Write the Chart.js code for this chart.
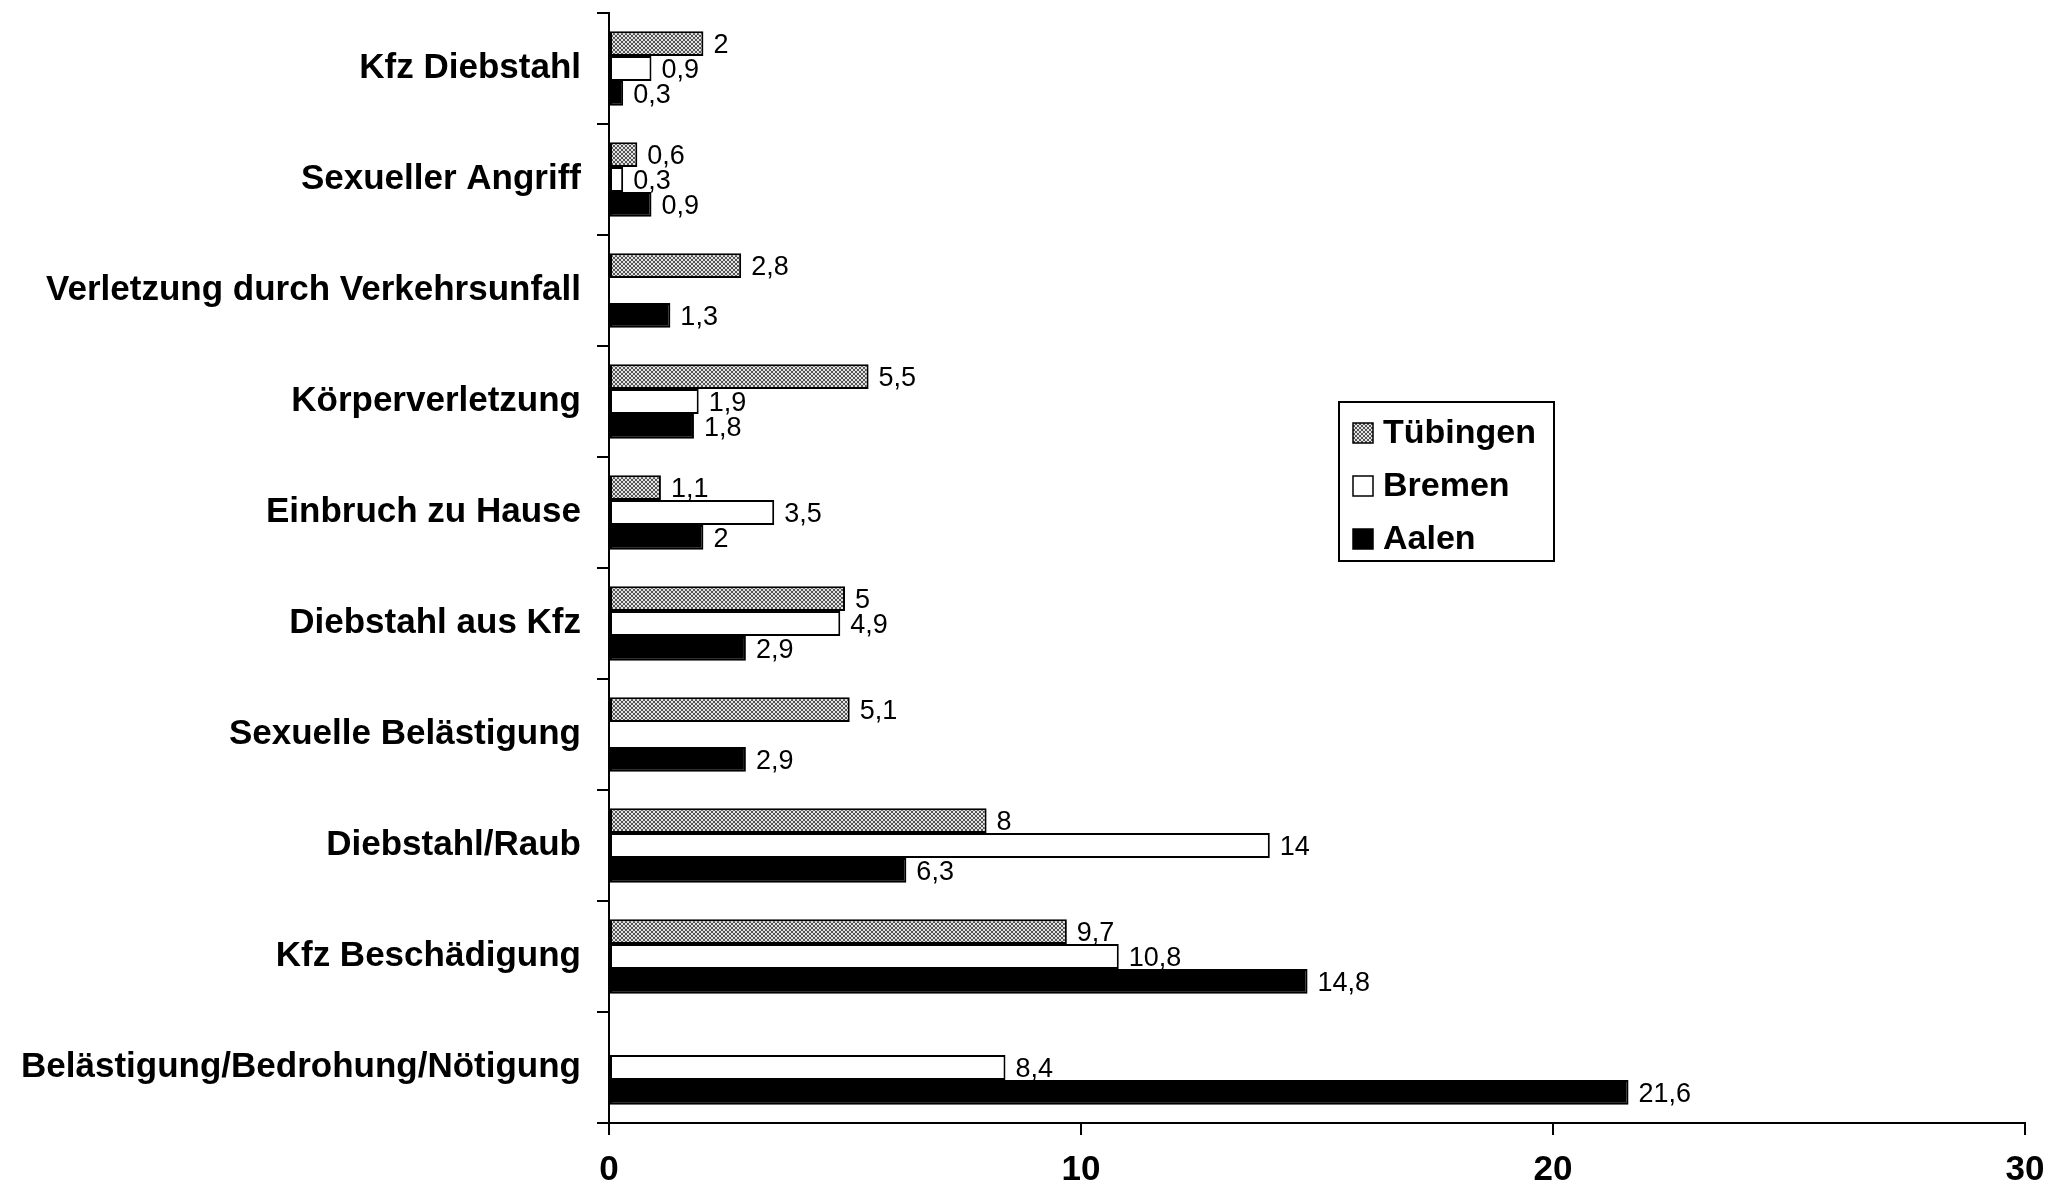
<!DOCTYPE html>
<html>
<head>
<meta charset="utf-8">
<script src="https://cdn.jsdelivr.net/npm/chart.js@4.4.1/dist/chart.umd.min.js"></script>
<style>
  html, body { margin: 0; padding: 0; background: #fff; }
  #wrap { width: 2069px; height: 1194px; }
</style>
</head>
<body>
<div id="wrap"><canvas id="chart" width="2069" height="1194"></canvas></div>
<script>
const categories = [
  'Kfz Diebstahl',
  'Sexueller Angriff',
  'Verletzung durch Verkehrsunfall',
  'Körperverletzung',
  'Einbruch zu Hause',
  'Diebstahl aus Kfz',
  'Sexuelle Belästigung',
  'Diebstahl/Raub',
  'Kfz Beschädigung',
  'Belästigung/Bedrohung/Nötigung'
];
const seriesNames = ['Tübingen', 'Bremen', 'Aalen'];
const tuebingen = [2, 0.6, 2.8, 5.5, 1.1, 5, 5.1, 8, 9.7, null];
const bremen    = [0.9, 0.3, null, 1.9, 3.5, 4.9, null, 14, 10.8, 8.4];
const aalen     = [0.3, 0.9, 1.3, 1.8, 2, 2.9, 2.9, 6.3, 14.8, 21.6];
const xTicks = [0, 10, 20, 30];

Chart.defaults.font.family = 'Liberation Sans, Arial, sans-serif';
Chart.defaults.color = '#000';

// crosshatch fill: dark diagonals both ways, light diamonds between
function makeHatch() {
  const c = document.createElement('canvas');
  c.width = 4; c.height = 4;
  const g = c.getContext('2d');
  for (let y = 0; y < 4; y++) {
    for (let x = 0; x < 4; x++) {
      const diag = x === y || x + y === 3;
      g.fillStyle = diag ? '#555555' : '#e2e2e2';
      g.fillRect(x, y, 1, 1);
    }
  }
  return g.createPattern(c, 'repeat');
}
const hatch = makeHatch();

const fmt = v => String(v).replace('.', ',');

const valueLabels = {
  id: 'valueLabels',
  afterDatasetsDraw(chart) {
    const ctx = chart.ctx;
    ctx.save();
    ctx.font = '27px Liberation Sans, Arial, sans-serif';
    ctx.fillStyle = '#000';
    ctx.textAlign = 'left';
    ctx.textBaseline = 'middle';
    chart.data.datasets.forEach((ds, i) => {
      chart.getDatasetMeta(i).data.forEach((bar, j) => {
        const v = ds.data[j];
        if (v === null || v === undefined) return;
        ctx.fillText(fmt(v), bar.x + 10, bar.y + 2);
      });
    });
    ctx.restore();
  }
};

const boxLegend = {
  id: 'boxLegend',
  afterDraw(chart) {
    const ctx = chart.ctx;
    const x0 = 1339, y0 = 402, w = 215, h = 159;
    ctx.save();
    ctx.fillStyle = '#fff';
    ctx.fillRect(x0, y0, w, h);
    ctx.strokeStyle = '#000';
    ctx.lineWidth = 2;
    ctx.strokeRect(x0, y0, w, h);
    ctx.font = 'bold 34px Liberation Sans, Arial, sans-serif';
    ctx.textBaseline = 'middle';
    chart.data.datasets.forEach((ds, i) => {
      const cy = y0 + 31 + i * 53;
      ctx.fillStyle = ds.backgroundColor;
      ctx.fillRect(x0 + 14, cy - 10, 20, 20);
      ctx.strokeStyle = '#000';
      ctx.lineWidth = 1.5;
      ctx.strokeRect(x0 + 14, cy - 10, 20, 20);
      ctx.fillStyle = '#000';
      ctx.fillText(ds.label, x0 + 44, cy + 1);
    });
    ctx.restore();
  }
};

new Chart(document.getElementById('chart'), {
  type: 'bar',
  data: {
    labels: categories,
    datasets: [
      { label: seriesNames[0], data: tuebingen, backgroundColor: hatch },
      { label: seriesNames[1], data: bremen, backgroundColor: '#ffffff' },
      { label: seriesNames[2], data: aalen, backgroundColor: '#000000' }
    ]
  },
  options: {
    indexAxis: 'y',
    responsive: false,
    animation: false,
    layout: { padding: { top: 13, right: 44, left: 0, bottom: 0 } },
    datasets: {
      bar: {
        borderColor: '#000',
        borderWidth: 2,
        borderSkipped: false,
        categoryPercentage: 0.67,
        barPercentage: 1
      }
    },
    plugins: {
      legend: { display: false },
      tooltip: { enabled: false }
    },
    scales: {
      x: {
        min: 0, max: 30,
        afterBuildTicks: s => { s.ticks = xTicks.map(v => ({ value: v })); },
        afterFit: s => { s.height = 71; s.paddingLeft = 0; s.paddingRight = 0; },
        border: { display: true, color: '#000', width: 2 },
        grid: { drawOnChartArea: false, color: '#000', lineWidth: 2, tickLength: 12 },
        ticks: { font: { size: 35, weight: 'bold' }, padding: 14, color: '#000' }
      },
      y: {
        afterFit: s => { s.width = 609; s.paddingTop = 0; s.paddingBottom = 0; },
        border: { display: true, color: '#000', width: 2 },
        grid: { offset: true, drawOnChartArea: false, color: '#000', lineWidth: 2, tickLength: 12 },
        ticks: { font: { size: 35, weight: 'bold' }, padding: 16, color: '#000' }
      }
    }
  },
  plugins: [valueLabels, boxLegend]
});
</script>
</body>
</html>
